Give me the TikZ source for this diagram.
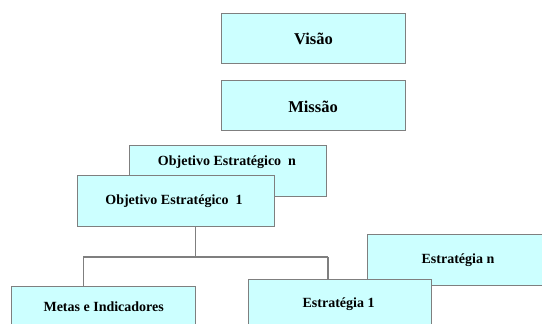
\documentclass[tikz,border=0pt]{standalone}
\usepackage{fontspec}
\setmainfont{Liberation Serif}
\definecolor{boxfill}{HTML}{CCFFFF}
\definecolor{boxline}{HTML}{7F7F7F}
\begin{document}
\begin{tikzpicture}[x=1pt,y=-1pt,
  box/.style={draw=boxline, fill=boxfill, line width=1pt, inner sep=0pt, rectangle},
  big/.style={font=\fontsize{16.5}{19}\selectfont\bfseries, inner sep=0pt, anchor=base},
  txt/.style={font=\fontsize{14}{16}\selectfont\bfseries, inner sep=0pt, anchor=base},
  conn/.style={draw=boxline, line width=1.2pt}]
\useasboundingbox (0,0) rectangle (542,324);
\clip (0,0) rectangle (542,324);
% Visao / Missao
\node[box, minimum width=184pt, minimum height=50.5pt] (visao) at (313,38.25) {};
\node[big] (tvisao) at (313.5,45) {Visão};
\node[box, minimum width=184pt, minimum height=50pt] (missao) at (313,105) {};
\node[big] (tmissao) at (313,112.5) {Missão};
% Objetivos
\node[box, minimum width=196.4pt, minimum height=51pt] (objn) at (227.8,171) {};
\node[txt] (tobjn) at (227,165) {Objetivo Estratégico\ \ n};
\node[box, minimum width=197pt, minimum height=51pt] (obj1) at (175.5,201) {};
\node[txt] (tobj1) at (174,204) {Objetivo Estratégico\ \ 1};
% Estrategias
\node[box, minimum width=182pt, minimum height=51pt] (estn) at (458,260) {};
\node[txt] (testn) at (458,263.5) {Estratégia n};
\node[box, minimum width=183pt, minimum height=51pt] (est1) at (339.5,304.5) {};
\node[txt] (test1) at (338.6,307.5) {Estratégia 1};
% Metas
\node[box, minimum width=184pt, minimum height=51pt] (metas) at (103.5,311.5) {};
\node[txt] (tmetas) at (103.7,311.5) {Metas e Indicadores};
% connectors
\coordinate (jn) at (195.6,257);
\coordinate (cl) at (83.3,257);
\coordinate (cr) at (328,257);
\draw[conn] (obj1.south -| jn) -- (jn);
\draw[conn] (cl) -- (cr);
\draw[conn] (cl) -- (cl |- metas.north);
\draw[conn] (cr) -- (cr |- est1.north);
\end{tikzpicture}
\end{document}
